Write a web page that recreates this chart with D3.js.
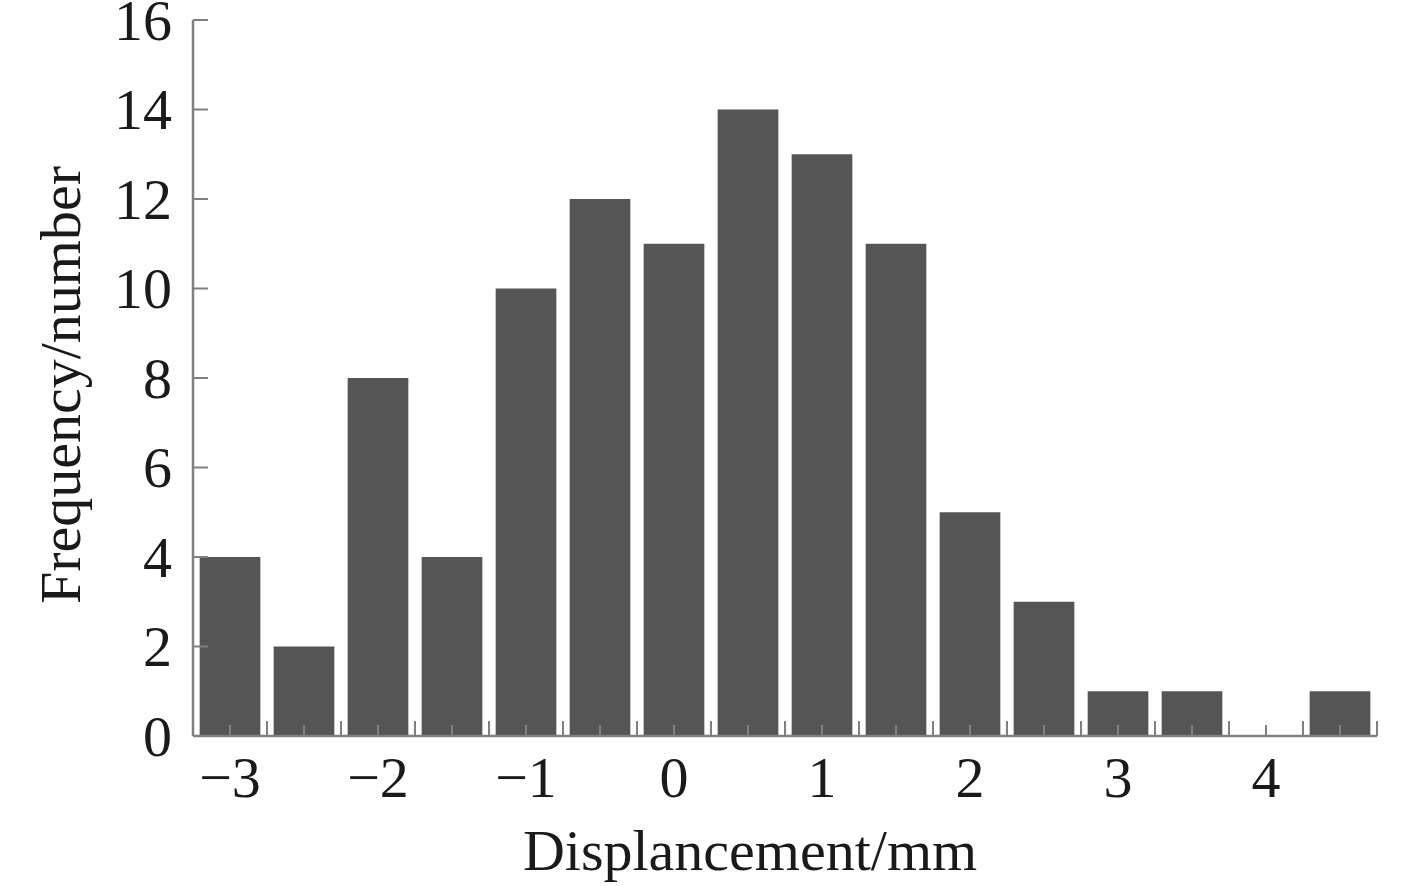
<!DOCTYPE html>
<html>
<head>
<meta charset="utf-8">
<script src="https://cdn.jsdelivr.net/npm/d3@7"></script>
<style>
  html, body { margin: 0; padding: 0; background: #ffffff; }
  svg { display: block; }
  text { font-family: "Liberation Serif", "Times New Roman", serif; fill: #1a1a1a; }
</style>
</head>
<body>
<svg id="chart" width="1417" height="886"></svg>
<script>
// Data: histogram bin centres (mm) and frequencies
const binCenters = [-3, -2.5, -2, -1.5, -1, -0.5, 0, 0.5, 1, 1.5, 2, 2.5, 3, 3.5, 4, 4.5];
const counts     = [4, 2, 8, 4, 10, 12, 11, 14, 13, 11, 5, 3, 1, 1, 0, 1];
const xTickLabels = [-3, -2, -1, 0, 1, 2, 3, 4];
const yTickValues = [0, 2, 4, 6, 8, 10, 12, 14, 16];
const xLabel = "Displancement/mm";
const yLabel = "Frequency/number";

const binWidth = 0.5;
const barFrac = 0.82;

const svg = d3.select("#chart");
const x = d3.scaleLinear().domain([-3.25, 4.75]).range([193, 1377]);
const y = d3.scaleLinear().domain([0, 16]).range([736, 20]);

const axisColor = "#808080";
const fontSize = 58;

// Bars
svg.append("g").selectAll("rect")
  .data(binCenters.map((c, i) => ({c, v: counts[i]})))
  .join("rect")
  .attr("x", d => x(d.c - binWidth * barFrac / 2))
  .attr("width", d => x(d.c + binWidth * barFrac / 2) - x(d.c - binWidth * barFrac / 2))
  .attr("y", d => y(d.v))
  .attr("height", d => y(0) - y(d.v))
  .attr("fill", "#555555");

// X axis: major ticks at bin edges (long), minor at bin centres (short), labels at integers
const gx = svg.append("g");
const edges = d3.range(binCenters.length + 1).map(i => binCenters[0] - binWidth / 2 + i * binWidth);
gx.selectAll("line.edge").data(edges).join("line")
  .attr("x1", d => x(d)).attr("x2", d => x(d))
  .attr("y1", y(0)).attr("y2", y(0) - 15)
  .attr("stroke", axisColor).attr("stroke-width", 2);
gx.selectAll("line.center").data(binCenters).join("line")
  .attr("x1", d => x(d)).attr("x2", d => x(d))
  .attr("y1", y(0)).attr("y2", y(0) - 11)
  .attr("stroke", axisColor).attr("stroke-width", 2);
gx.append("line")
  .attr("x1", x.range()[0]).attr("x2", x.range()[1])
  .attr("y1", y(0)).attr("y2", y(0))
  .attr("stroke", axisColor).attr("stroke-width", 2.5);
const fmt = d3.format("d");
gx.selectAll("text").data(xTickLabels).join("text")
  .attr("x", d => x(d)).attr("y", 797)
  .attr("text-anchor", "middle")
  .attr("font-size", fontSize)
  .text(d => fmt(d));

// Y axis
const gy = svg.append("g");
gy.append("line")
  .attr("x1", x.range()[0]).attr("x2", x.range()[0])
  .attr("y1", y(0)).attr("y2", y(16))
  .attr("stroke", axisColor).attr("stroke-width", 2.5);
gy.selectAll("line.tick").data(yTickValues).join("line")
  .attr("x1", x.range()[0]).attr("x2", x.range()[0] + 15)
  .attr("y1", d => y(d)).attr("y2", d => y(d))
  .attr("stroke", axisColor).attr("stroke-width", 2);
gy.selectAll("text").data(yTickValues).join("text")
  .attr("x", 172).attr("y", d => y(d))
  .attr("dy", "0.34em")
  .attr("text-anchor", "end")
  .attr("font-size", fontSize)
  .text(d => d);

// Axis titles
svg.append("text")
  .attr("x", 750).attr("y", 870)
  .attr("text-anchor", "middle")
  .attr("font-size", fontSize)
  .text(xLabel);
svg.append("text")
  .attr("transform", "translate(80,385) rotate(-90)")
  .attr("text-anchor", "middle")
  .attr("font-size", fontSize)
  .text(yLabel);
</script>
</body>
</html>
